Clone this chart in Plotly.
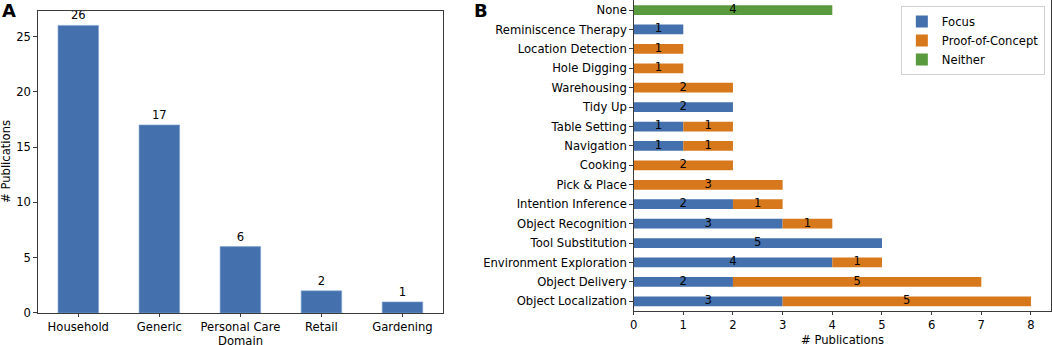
import plotly.graph_objects as go

# ---- Panel A data ----
domains = ["Household", "Generic", "Personal Care", "Retail", "Gardening"]
domain_counts = [26, 17, 6, 2, 1]

# ---- Panel B data (bottom to top) ----
tasks = ["Object Localization", "Object Delivery", "Environment Exploration", "Tool Substitution",
         "Object Recognition", "Intention Inference", "Pick & Place", "Cooking", "Navigation",
         "Table Setting", "Tidy Up", "Warehousing", "Hole Digging", "Location Detection",
         "Reminiscence Therapy", "None"]
focus = [3, 2, 4, 5, 3, 2, 0, 0, 1, 1, 2, 0, 0, 0, 1, 0]
proof = [5, 5, 1, 0, 1, 1, 3, 2, 1, 1, 0, 2, 1, 1, 0, 0]
neither = [0, 0, 0, 0, 0, 0, 0, 0, 0, 0, 0, 0, 0, 0, 0, 4]

BLUE = "#4471ad"
ORANGE = "#d8781c"
GREEN = "#5a9a3e"
FONT = "DejaVu Sans"
FS = 11.6
AX = "#3a3a3a"

fig = go.Figure()

# Panel A
fig.add_trace(go.Bar(
    x=domains, y=domain_counts, width=0.5,
    marker=dict(color=BLUE, line=dict(color="#7fa3d3", width=0.6)),
    text=[str(v) for v in domain_counts], textposition="outside",
    textfont=dict(family=FONT, size=FS, color="black"), cliponaxis=False,
    showlegend=False, xaxis="x", yaxis="y"))

# Panel B stacked bars
series = [("Focus", focus, BLUE), ("Proof-of-Concept", proof, ORANGE), ("Neither", neither, GREEN)]
base = [0] * len(tasks)
for name, vals, col in series:
    fig.add_trace(go.Bar(
        y=tasks, x=vals, base=base[:], orientation="h", width=0.5, name=name,
        marker=dict(color=col, line=dict(width=0)),
        xaxis="x2", yaxis="y2"))
    mids = [b + v / 2 for b, v in zip(base, vals)]
    labs = [str(v) if v else "" for v in vals]
    fig.add_trace(go.Scatter(
        x=mids, y=tasks, mode="text", text=labs,
        textfont=dict(family=FONT, size=FS, color="black"),
        showlegend=False, hoverinfo="skip", xaxis="x2", yaxis="y2", cliponaxis=False))
    base = [b + v for b, v in zip(base, vals)]

axcommon = dict(showline=True, mirror=True, linecolor=AX, linewidth=1, ticks="outside",
                ticklen=3.5, tickcolor=AX, showgrid=False, zeroline=False, automargin=False,
                tickfont=dict(family=FONT, size=FS, color="black"))

H = 345.0
W = 1052.0
tfont = dict(family=FONT, size=FS, color="black")

fig.update_layout(
    width=1052, height=345, margin=dict(l=0, r=0, t=0, b=0, autoexpand=False),
    paper_bgcolor="white", plot_bgcolor="white",
    font=dict(family=FONT, size=FS, color="black"),
    barmode="overlay",
    xaxis=dict(domain=[0.0359, 0.4211], range=[-0.5, 4.5], type="category", **axcommon),
    yaxis=dict(domain=[0.0928, 0.9681], range=[0, 27.3], tickvals=[0, 5, 10, 15, 20, 25], **axcommon),
    xaxis2=dict(domain=[0.6023, 0.9989], range=[0, 8.4], tickvals=list(range(9)), anchor="y2", **axcommon),
    yaxis2=dict(domain=[0.0986, 0.999], range=[-0.5, 15.5], type="category",
                categoryorder="array", categoryarray=tasks, anchor="x2", **axcommon),
    legend=dict(x=0.9932, xanchor="right", y=0.9826, yanchor="top",
                bordercolor="#d0d0d0", borderwidth=1, bgcolor="rgba(255,255,255,0.85)",
                font=dict(family=FONT, size=FS, color="black"), tracegroupgap=0,
                itemwidth=30),
    annotations=[
        dict(text="<b>A</b>", x=9 / W, y=1 - 10 / H, xref="paper", yref="paper",
             xanchor="center", yanchor="middle",
             showarrow=False, font=dict(family=FONT, size=18, color="black")),
        dict(text="<b>B</b>", x=481 / W, y=1 - 11 / H, xref="paper", yref="paper",
             xanchor="center", yanchor="middle",
             showarrow=False, font=dict(family=FONT, size=18, color="black")),
        dict(text="Domain", x=240 / W, y=1 - 341 / H, xref="paper", yref="paper",
             xanchor="center", yanchor="middle", showarrow=False, font=tfont),
        dict(text="# Publications", x=6 / W, y=1 - 162 / H, xref="paper", yref="paper",
             xanchor="center", yanchor="middle", textangle=-90, showarrow=False, font=tfont),
        dict(text="# Publications", x=842 / W, y=1 - 340 / H, xref="paper", yref="paper",
             xanchor="center", yanchor="middle", showarrow=False, font=tfont),
    ],
)

fig.write_html("out.html", config={"displayModeBar": False},
               post_script="document.body.style.margin='0';document.body.style.overflow='hidden';")
